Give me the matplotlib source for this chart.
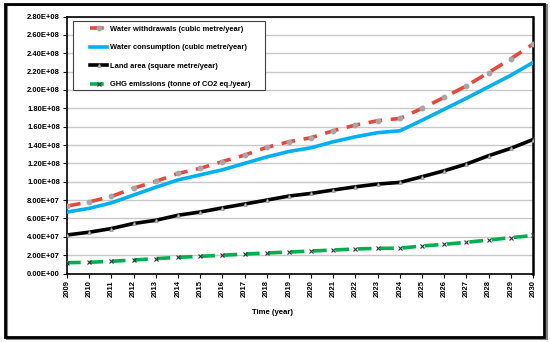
import matplotlib
matplotlib.use("Agg")
import matplotlib.pyplot as plt
from matplotlib.patches import Rectangle
from matplotlib.ticker import FuncFormatter, MultipleLocator

plt.rcParams["font.family"] = ["Liberation Sans", "DejaVu Sans"]
plt.rcParams["font.weight"] = "bold"

years = list(range(2009, 2031))

water_withdrawals = [7.35e7, 7.8e7, 8.4e7, 9.3e7, 1.004e8, 1.09e8, 1.146e8, 1.22e8,
                     1.29e8, 1.375e8, 1.436e8, 1.48e8, 1.556e8, 1.618e8, 1.665e8,
                     1.69e8, 1.80e8, 1.92e8, 2.045e8, 2.19e8, 2.34e8, 2.50e8]
water_consumption = [6.7e7, 7.1e7, 7.7e7, 8.55e7, 9.4e7, 1.02e8, 1.075e8, 1.13e8,
                     1.2e8, 1.27e8, 1.33e8, 1.37e8, 1.436e8, 1.49e8, 1.535e8,
                     1.555e8, 1.67e8, 1.79e8, 1.91e8, 2.035e8, 2.16e8, 2.30e8]
land_area = [4.2e7, 4.5e7, 4.9e7, 5.45e7, 5.8e7, 6.35e7, 6.7e7, 7.15e7,
             7.57e7, 8.0e7, 8.44e7, 8.73e7, 9.1e7, 9.45e7, 9.75e7,
             9.93e7, 1.055e8, 1.12e8, 1.193e8, 1.284e8, 1.364e8, 1.46e8]
ghg_emissions = [1.18e7, 1.22e7, 1.33e7, 1.47e7, 1.62e7, 1.76e7, 1.87e7, 1.99e7,
                 2.12e7, 2.23e7, 2.34e7, 2.45e7, 2.56e7, 2.67e7, 2.74e7,
                 2.76e7, 3.0e7, 3.18e7, 3.4e7, 3.65e7, 3.9e7, 4.15e7]

labels = [
    "Water withdrawals (cubic metre/year)",
    "Water consumption (cubic metre/year)",
    "Land area (square metre/year)",
    "GHG emissions (tonne of CO2 eq./year)",
]

fig = plt.figure(figsize=(5.5, 3.42), dpi=100)
ax = fig.add_axes([67 / 550, 1 - 273.5 / 342, 466 / 550, 256.9 / 342])

ax.plot(years, water_withdrawals, color="#E8473C", lw=2.6, dashes=(3.8, 2.4),
        marker="o", ms=3.2, mfc="#A6A6A6", mec="#A6A6A6", label=labels[0], zorder=4)
ax.plot(years, water_consumption, color="#00B0F0", lw=2.6,
        label=labels[1], zorder=3)
ax.plot(years, land_area, color="black", lw=2.6, marker="^", ms=2.6,
        mfc="#BFBFBF", mec="#808080", mew=0.5, label=labels[2], zorder=3)
ax.plot(years, ghg_emissions, color="#00B050", lw=2.6, dashes=(3.8, 2.4),
        marker="x", ms=3, mec="#333333", mew=0.8, label=labels[3], zorder=3)

ax.set_xlim(2009, 2030)
ax.set_ylim(0, 2.8e8)
ax.set_xticks(years)
ax.yaxis.set_major_locator(MultipleLocator(2e7))
ax.yaxis.set_major_formatter(FuncFormatter(lambda v, p: f"{v:.2E}"))
ax.tick_params(axis="both", labelsize=5.5, length=3, width=0.8, direction="out", pad=2)
ax.tick_params(axis="x", labelrotation=90)
ax.grid(axis="y", color="#C8C8C8", lw=1)
ax.set_axisbelow(True)
for side in ["left", "bottom", "top"]:
    ax.spines[side].set_linewidth(1.2)
ax.spines["right"].set_linewidth(1.8)

fig.text(272 / 550, 1 - 312 / 342, "Time (year)", ha="center", va="center",
         fontsize=5.6, fontweight="bold")

# legend without its own frame, box drawn separately
leg = ax.legend(loc="upper left", bbox_to_anchor=(90 / 550, 1 - 25.5 / 342),
                bbox_transform=fig.transFigure, borderaxespad=0, borderpad=0,
                fontsize=5.4, frameon=False, handlelength=2.3, handletextpad=0.3,
                labelspacing=1.5, numpoints=1)
leg.set_zorder(6)
ax.add_patch(Rectangle((73 / 550, 1 - 90 / 342), 192 / 550, 69 / 342,
                       transform=fig.transFigure, facecolor="white",
                       edgecolor="#404040", lw=0.8, zorder=5, clip_on=False))

# outer frame with a little shadow
fig.patches.append(Rectangle((7 / 550, 3 / 342), 540 / 550, 334 / 342, transform=fig.transFigure,
                             fill=False, edgecolor="#808080", lw=1.5, zorder=0))
fig.patches.append(Rectangle((5 / 550, 5 / 342), 539 / 550, 333 / 342, transform=fig.transFigure,
                             fill=False, edgecolor="black", lw=2, zorder=1))

fig.savefig("out.png", dpi=100)
